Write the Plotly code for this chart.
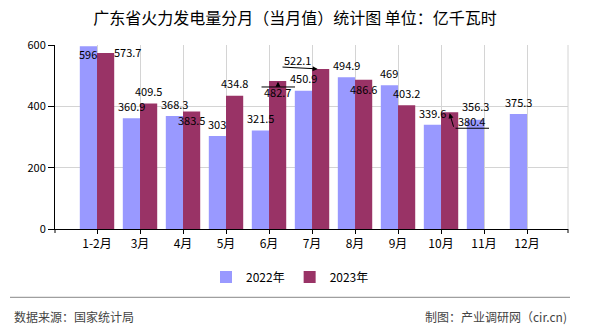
import plotly.graph_objects as go

# ---------------- data ----------------
categories = ["1-2月", "3月", "4月", "5月", "6月", "7月", "8月", "9月", "10月", "11月", "12月"]
values_2022 = [596, 360.9, 368.3, 303, 321.5, 450.9, 494.9, 469, 339.6, 356.3, 375.3]
values_2023 = [573.7, 409.5, 383.5, 434.8, 482.7, 522.1, 486.6, 403.2, 380.4, None, None]
series_names = ["2022年", "2023年"]
y_ticks = [0, 200, 400, 600]

title_text = "广东省火力发电量分月（当月值）统计图 单位：亿千瓦时"
source_text = "数据来源：国家统计局"
credit_text = "制图：产业调研网（cir.cn)"

# ---------------- styles ----------------
BLUE = "#9999FF"
RED = "#993366"
GRID = "#d4d4d4"
FONT = "Noto Sans CJK SC, Noto Sans, sans-serif"

W, H = 590, 330
L, R, T, B = 55, 22, 45, 101
PW, PH = W - L - R, H - T - B


def px_x(x):
    return (x - L) / PW


def px_y(y):
    return (H - B - y) / PH


HALF = 8.6  # pixel offset of each bar centre from category centre
# label offsets (dx, dy) in pixels from bar top centre (dy positive = down)
default_off = (0, -12.3)
off_2022 = {0: (0, 8), 9: (0, -13.3)}
off_2023 = {0: (21.5, -1.4), 2: (0, 8.3), 4: (0, 10.7), 5: (-23.6, -9.2),
            6: (0, 8.9), 8: (21.4, 8.9)}
# callouts on 2023 series: (index, tail(dx,dy), tip(dx,dy), arrowhead)
callouts_2023 = [
    (4, (-17.6, 6), (17.4, 6), 0),
    (4, (0.4, 6), (0.4, 0.8), 2),
    (5, (-39.6, -1.9), (-3, 0), 2),
    (8, (4.4, 15.9), (39.4, 15.9), 0),
    (8, (4.4, 15.9), (0, 1), 2),
]

fig = go.Figure()
fig.add_trace(go.Bar(name=series_names[0], x=categories, y=values_2022,
                     marker=dict(color=BLUE, line=dict(width=0))))
fig.add_trace(go.Bar(name=series_names[1], x=categories, y=values_2023,
                     marker=dict(color=RED, line=dict(width=0))))

annotations = []


def fmt(v):
    return f"{v:g}"


for vals, offs, sign in ((values_2022, off_2022, -1), (values_2023, off_2023, 1)):
    for i, v in enumerate(vals):
        if v is None:
            continue
        dx, dy = offs.get(i, default_off)
        annotations.append(dict(
            x=categories[i], y=v, xref="x", yref="y", text=fmt(v),
            showarrow=False, xanchor="center", yanchor="middle", borderpad=0,
            xshift=sign * HALF + dx, yshift=-dy,
            font=dict(family=FONT, size=11, color="black")))

for i, tail, tip, head in callouts_2023:
    annotations.append(dict(
        x=categories[i], y=values_2023[i], xref="x", yref="y", text="",
        showarrow=True, arrowhead=head, arrowsize=1, arrowwidth=1,
        arrowcolor="black", axref="pixel", ayref="pixel",
        ax=tail[0] - tip[0], ay=tail[1] - tip[1],
        xshift=HALF + tip[0], yshift=-tip[1]))

annotations.append(dict(
    x=px_x(12), y=px_y(316), xref="paper", yref="paper", text=source_text,
    showarrow=False, xanchor="left", yanchor="middle",
    font=dict(family=FONT, size=12, color="#444444")))
annotations.append(dict(
    x=px_x(569), y=px_y(316), xref="paper", yref="paper", text=credit_text,
    showarrow=False, xanchor="right", yanchor="middle",
    font=dict(family=FONT, size=12, color="#444444")))

shapes = [
    # footer rule
    dict(type="line", xref="paper", yref="paper", x0=px_x(10), x1=px_x(570),
         y0=px_y(297.3), y1=px_y(297.3), line=dict(color="#888888", width=1)),
    # right frame line
    dict(type="line", xref="paper", yref="paper", x0=1, x1=1, y0=0, y1=1,
         line=dict(color=GRID, width=1), layer="below"),
    # end ticks on x axis
    dict(type="line", xref="paper", yref="paper", x0=0, x1=0, y0=0, y1=px_y(H - B + 4),
         line=dict(color="black", width=1)),
    dict(type="line", xref="paper", yref="paper", x0=1, x1=1, y0=0, y1=px_y(H - B + 4),
         line=dict(color="black", width=1)),
]

fig.update_layout(
    width=W, height=H,
    margin=dict(l=L, r=R, t=T, b=B, pad=0),
    paper_bgcolor="white", plot_bgcolor="white",
    barmode="group", bargap=0.2, bargroupgap=0,
    font=dict(family=FONT, size=12, color="black"),
    title=dict(text=title_text, x=0.5, xref="container", xanchor="center",
               y=1 - 18 / H, yref="container", yanchor="middle",
               font=dict(family=FONT, size=16, color="black")),
    xaxis=dict(type="category", categoryorder="array", categoryarray=categories,
               range=[-0.977, 10.953], showgrid=True, gridcolor=GRID, gridwidth=1,
               showline=True, linecolor="black", linewidth=1,
               ticks="outside", ticklen=4, tickcolor="black",
               tickfont=dict(family=FONT, size=12, color="black"), zeroline=False),
    yaxis=dict(range=[0, 600], tickvals=y_ticks, showgrid=True, gridcolor=GRID, gridwidth=1,
               showline=True, linecolor="black", linewidth=1,
               ticks="outside", ticklen=6, tickcolor="black",
               tickfont=dict(family=FONT, size=11, color="black"), zeroline=False),
    legend=dict(orientation="h", xref="container", x=290 / W, xanchor="center",
                yref="container", y=1 - 277 / H, yanchor="middle",
                font=dict(family=FONT, size=12, color="black"),
                bgcolor="rgba(0,0,0,0)", itemclick=False),
    annotations=annotations,
    shapes=shapes,
)

fig.write_html("out.html")
